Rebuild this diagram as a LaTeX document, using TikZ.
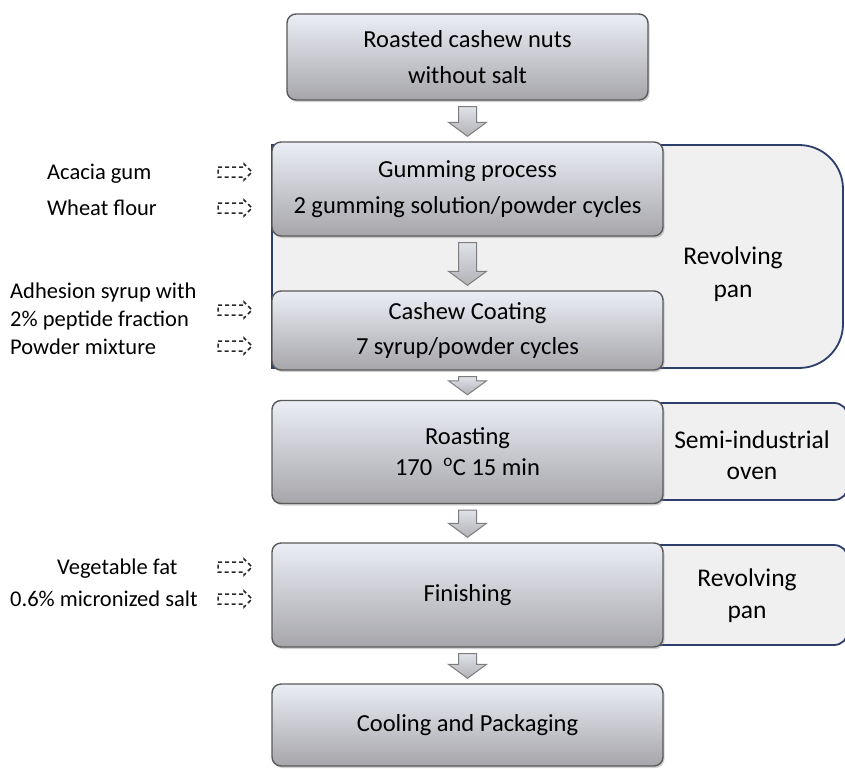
\documentclass[tikz,border=0pt]{standalone}
\usepackage{fontspec}
\setmainfont{Carlito}
\usetikzlibrary{calc,shadows}
\definecolor{navy}{RGB}{44,62,105}
\definecolor{panfill}{RGB}{240,240,240}
\definecolor{boxtop}{RGB}{236,238,246}
\definecolor{boxbot}{RGB}{166,166,170}
\definecolor{boxedge}{RGB}{90,90,90}
\definecolor{arrtop}{RGB}{224,226,234}
\definecolor{arrbot}{RGB}{178,178,182}
\definecolor{arredge}{RGB}{125,125,125}
\definecolor{dashcol}{RGB}{40,40,40}
\newcommand\flowarrow[2]{%
  \path[flowarr] let \p1=(#1.south), \p2=(#2.north) in
  (\x1-9pt,\y1-6pt) -- (\x1+9pt,\y1-6pt) -- (\x1+9pt,\y2+19pt) -- (\x1+19pt,\y2+19pt)
  -- (\x1,\y2+5pt) -- (\x1-19pt,\y2+19pt) -- (\x1-9pt,\y2+19pt) -- cycle;}
\begin{document}
\begin{tikzpicture}[x=1pt,y=-1pt,
  stepbox/.style={draw=boxedge,line width=1.4pt,rounded corners=9pt,
    top color=boxtop,bottom color=boxbot,align=center,
    font=\fontsize{24.5}{36}\selectfont,inner sep=0pt,minimum width=391pt,
    drop shadow={shadow xshift=1.5pt,shadow yshift=-2pt,opacity=0.35}},
  panbox/.style={draw=navy,line width=1.8pt,fill=panfill},
  flowarr/.style={draw=arredge,line width=1pt,top color=arrtop,bottom color=arrbot},
  dashline/.style={draw=dashcol,line width=1.5pt,dash pattern=on 4pt off 3pt},
  lbl/.style={font=\fontsize{22.5}{28}\selectfont,inner sep=0pt,anchor=base west},
  side/.style={font=\fontsize{25.5}{33}\selectfont,align=center,inner sep=0pt},
  dasharr/.pic={\draw[dashline] (-17,-5) -- (9,-5) -- (9,-8) -- (17,0) -- (9,8) -- (9,5) -- (-17,5) -- cycle;}
]
\useasboundingbox (0,0) rectangle (845,768);
\fill[white] (0,0) rectangle (845,768);
\begin{scope}
\clip (0,0) rectangle (845,768);
% equipment panels
\draw[panbox] (272,368) -- (272,145) -- (799,145) arc[start angle=-90,end angle=0,radius=44]
  -- (843,324) arc[start angle=0,end angle=90,radius=44] -- cycle;
\draw[panbox,rounded corners=14pt] (600,403) rectangle (848,500);
\draw[panbox,rounded corners=14pt] (600,545) rectangle (848,645);

% process boxes
\node[stepbox,minimum width=361pt,minimum height=86pt] (b1) at (467.5,57) {Roasted cashew nuts\\without salt};
\node[stepbox,minimum height=94pt] (b2) at (467.5,189) {Gumming process\\2 gumming solution/powder cycles};
\node[stepbox,minimum height=79pt,font=\fontsize{24.5}{35}\selectfont] (b3) at (467.5,330.5) {Cashew Coating\\7 syrup/powder cycles};
\node[stepbox,minimum height=103pt,font=\fontsize{24.5}{31}\selectfont] (b4) at (467.5,452) {Roasting\\170\ \ \textsuperscript{o}C 15 min};
\node[stepbox,minimum height=104pt] (b5) at (467.5,595) {Finishing};
\node[stepbox,minimum height=82pt] (b6) at (467.5,725) {Cooling and Packaging};

% flow arrows
\flowarrow{b1}{b2}
\flowarrow{b2}{b3}
\flowarrow{b3}{b4}
\flowarrow{b4}{b5}
\flowarrow{b5}{b6}

% equipment labels
\node[side] (e1) at (733,274) {Revolving\\pan};
\node[side,font=\fontsize{25.5}{31}\selectfont] (e2) at (752,455) {Semi-industrial\\oven};
\node[side,font=\fontsize{25.5}{32}\selectfont] (e3) at (747,596) {Revolving\\pan};

% ingredient labels
\node[lbl] (i1) at (47,179.5) {Acacia gum};
\node[lbl] (i2) at (47,215.5) {Wheat flour};
\node[lbl] (i3) at (10,298.5) {Adhesion syrup with};
\node[lbl] (i4) at (10,326.5) {2\% peptide fraction};
\node[lbl] (i5) at (10,354.5) {Powder mixture};
\node[lbl] (i6) at (57,574.5) {Vegetable fat};
\node[lbl] (i7) at (10,606.5) {0.6\% micronized salt};

% dashed input arrows
\pic at (235,172) {dasharr};
\pic at (235,208) {dasharr};
\pic at (235,310) {dasharr};
\pic at (235,346) {dasharr};
\pic at (235,567) {dasharr};
\pic at (235,599) {dasharr};
\end{scope}
\end{tikzpicture}
\end{document}
